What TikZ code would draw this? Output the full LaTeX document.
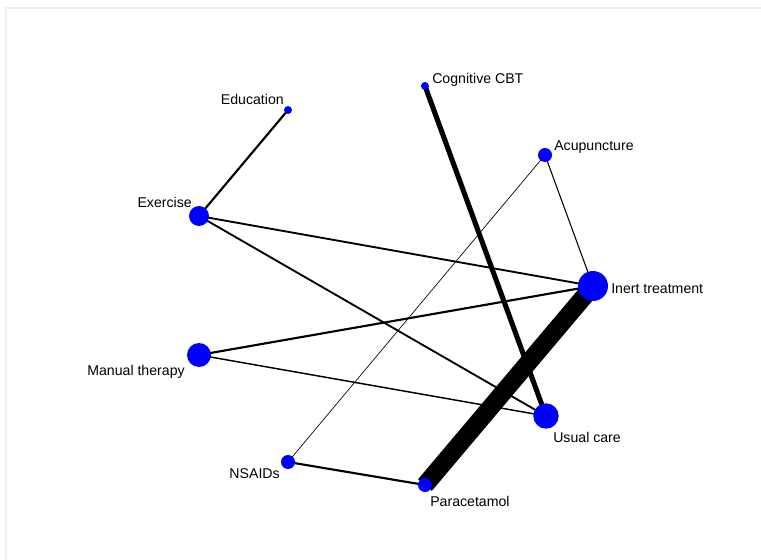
\documentclass[tikz,border=0pt]{standalone}
\usepackage{fontspec}
\setmainfont{Liberation Sans}
\usepackage{xcolor}
\usepackage{tikz}
\usetikzlibrary{backgrounds}
\definecolor{netblue}{RGB}{0,0,255}
\definecolor{framegray}{RGB}{234,240,240}

\begin{document}
\begin{tikzpicture}[x=0.75pt,y=0.75pt,yscale=-1,xscale=1,
    trt/.style={circle,fill=netblue,draw=none,inner sep=0pt,minimum size=#1},
    lbl/.style={inner sep=0pt,font=\fontsize{10.6}{12.7}\selectfont},
    edge/.style={line width=#1,color=black}]
      \useasboundingbox (0,0) rectangle (761,560);

      %Frame
      \draw [color=framegray,line width=1.2pt] (6,560) -- (6,8) -- (761,8) ;

      %Shapes: treatments
      \node [trt=6pt]    (edu)  at (288,110) {};
      \node [trt=6pt]    (cbt)  at (425,86)  {};
      \node [trt=10.5pt] (acu)  at (545,155) {};
      \node [trt=15pt]   (exe)  at (199,216) {};
      \node [trt=22.5pt] (inert) at (593,286) {};
      \node [trt=18pt]   (man)  at (199,355) {};
      \node [trt=19pt]   (usual) at (546,416) {};
      \node [trt=10.5pt] (nsa)  at (288,462) {};
      \node [trt=10.5pt] (para) at (425,485) {};

      %Straight Lines: comparisons
      \begin{scope}[on background layer]
      \draw [edge=1.6pt]  (edu.center) -- (exe.center) ;
      \draw [edge=3.8pt]  (cbt.center) -- (usual.center) ;
      \draw [edge=0.8pt]  (acu.center) -- (inert.center) ;
      \draw [edge=0.5pt]  (acu.center) -- (nsa.center) ;
      \draw [edge=1.4pt]  (exe.center) -- (inert.center) ;
      \draw [edge=1.4pt]  (exe.center) -- (usual.center) ;
      \draw [edge=1.6pt]  (man.center) -- (inert.center) ;
      \draw [edge=1.1pt]  (man.center) -- (usual.center) ;
      \draw [edge=13.5pt] (inert.center) -- (para.center) ;
      \draw [edge=1.6pt]  (nsa.center) -- (para.center) ;
      \end{scope}

      % Text Node
      \node [lbl,anchor=base east] (edulbl)   at (284,105) {Education};
      % Text Node
      \node [lbl,anchor=base west] (cbtlbl)   at (432,84)  {Cognitive CBT};
      % Text Node
      \node [lbl,anchor=base west] (aculbl)   at (554,151) {Acupuncture};
      % Text Node
      \node [lbl,anchor=base east] (exelbl)   at (192,207) {Exercise};
      % Text Node
      \node [lbl,anchor=base west] (inertlbl) at (611,293) {Inert treatment};
      % Text Node
      \node [lbl,anchor=base east] (manlbl)   at (185,375) {Manual therapy};
      % Text Node
      \node [lbl,anchor=base west] (usuallbl) at (553,442) {Usual care};
      % Text Node
      \node [lbl,anchor=base east] (nsalbl)   at (280,478) {NSAIDs};
      % Text Node
      \node [lbl,anchor=base west] (paralbl)  at (430,506) {Paracetamol};
\end{tikzpicture}
\end{document}
